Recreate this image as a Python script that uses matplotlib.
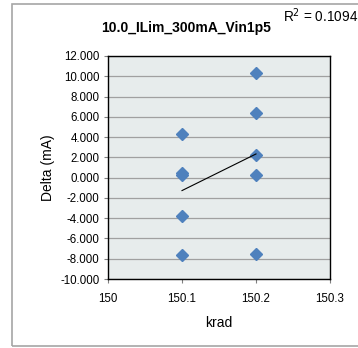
import numpy as np
import matplotlib.pyplot as plt
from matplotlib.patches import Rectangle
from matplotlib.ticker import FormatStrFormatter

krad = np.array([150.1, 150.1, 150.1, 150.1, 150.1,
                 150.2, 150.2, 150.2, 150.2, 150.2])
delta = np.array([4.31, 0.30, 0.42, -3.75, -7.66,
                  10.29, 6.35, 2.27, 0.30, -7.53])
title = "10.0_ILim_300mA_Vin1p5"
r2_label = "R$^2$ = 0.1094"

plt.rcParams["font.family"] = ["Liberation Sans", "DejaVu Sans"]

fig = plt.figure(figsize=(3.58, 3.48), dpi=100)
# outer chart frame
fig.patches.append(Rectangle((12 / 358, 2 / 348), 1.2, 342 / 348,
                             transform=fig.transFigure, fill=False,
                             edgecolor="#A6A6A6", linewidth=1.2))

ax = fig.add_axes([108 / 358, 1 - 279 / 348, 222 / 358, 223 / 348])
ax.set_facecolor("#E7ECEC")
ax.set_xlim(150, 150.3)
ax.set_ylim(-10, 12)
ax.set_yticks(np.arange(-10, 13, 2))
ax.set_xticks([150, 150.1, 150.2, 150.3])
ax.set_xticklabels(["150", "150.1", "150.2", "150.3"])
ax.yaxis.set_major_formatter(FormatStrFormatter("%.3f"))
ax.grid(axis="y", color="#A0A0A0", linewidth=0.9)
ax.set_axisbelow(True)
for s in ax.spines.values():
    s.set_color("#000000")
    s.set_linewidth(1.0)
ax.tick_params(labelsize=8.3, length=3, width=0.8, color="#808080")
ax.tick_params(axis="x", pad=7)
ax.tick_params(axis="y", pad=3)

ax.plot(krad, delta, "D", color="#4F81BD", markersize=6.5, zorder=3)

m, b = np.polyfit(krad, delta, 1)
xs = np.array([150.1, 150.2])
ax.plot(xs, m * xs + b, color="black", linewidth=0.8, zorder=4)

ax.set_xlabel("krad", fontsize=10, labelpad=8)
ax.set_ylabel("Delta (mA)", fontsize=10, labelpad=4)
fig.text(186 / 358, 1 - 28 / 348, title, fontsize=10, fontweight="bold",
         ha="center", va="center")
fig.text(283 / 358, 1 - 16 / 348, r2_label, fontsize=9.8, ha="left", va="center")

fig.savefig("out.png", dpi=100)
